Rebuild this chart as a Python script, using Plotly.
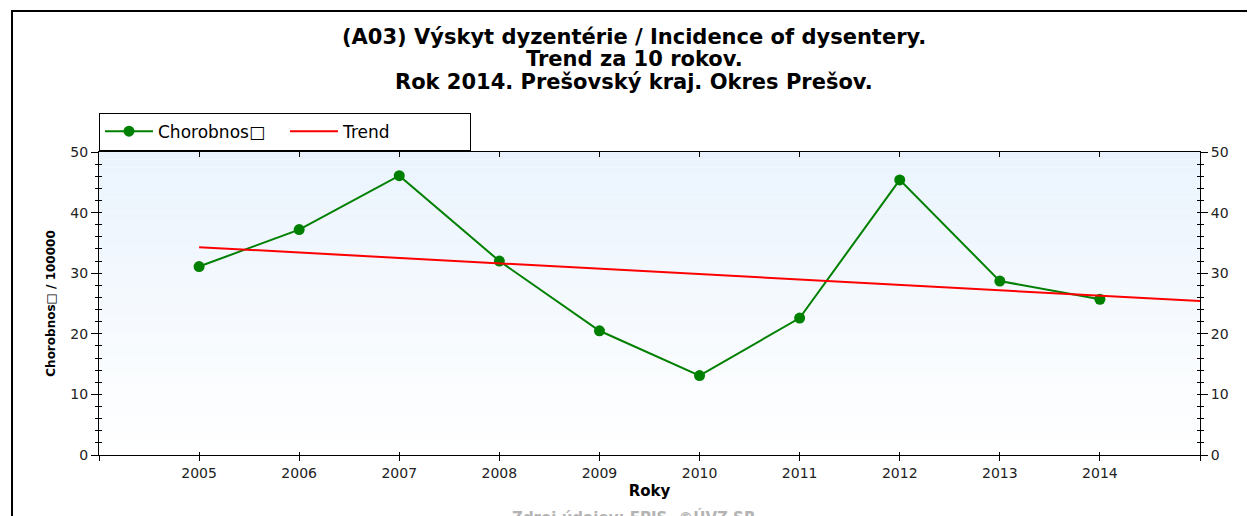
import plotly.graph_objects as go

# ---- data ----
years = [2005, 2006, 2007, 2008, 2009, 2010, 2011, 2012, 2013, 2014]
incidence = [31.1, 37.2, 46.1, 32.0, 20.5, 13.1, 22.6, 45.4, 28.7, 25.7]
trend_years = [2005, 2015]
trend_values = [34.3, 25.4]
tick_years = [2004, 2005, 2006, 2007, 2008, 2009, 2010, 2011, 2012, 2013, 2014, 2015]
tick_labels = ["", "2005", "2006", "2007", "2008", "2009", "2010", "2011", "2012", "2013", "2014", ""]
y_ticks = [0, 10, 20, 30, 40, 50]

series_name = "Chorobnos\u25a1"
title_lines = [
    "(A03) Výskyt dyzentérie / Incidence of dysentery.",
    "Trend za 10 rokov.",
    "Rok 2014. Prešovský kraj. Okres Prešov.",
]
y_title = "Chorobnos\u25a1 / 100000"
x_title = "Roky"
source_text = "Zdroj údajov: EPIS, ©ÚVZ SR"

FONT = "DejaVu Sans, Verdana, sans-serif"
GREEN = "#008000"
RED = "#ff0000"

fig = go.Figure()

fig.add_trace(go.Scatter(
    x=years, y=incidence, name=series_name, mode="lines+markers",
    line=dict(color=GREEN, width=2),
    marker=dict(color=GREEN, size=11, symbol="circle"),
))
fig.add_trace(go.Scatter(
    x=trend_years, y=trend_values, name="Trend", mode="lines",
    line=dict(color=RED, width=2),
))
# invisible helper traces so the overlay axes (inner tick halves, right axis, top axis) render
for xa, ya in [("x2", "y2"), ("x3", "y3"), ("x", "y4")]:
    fig.add_trace(go.Scatter(
        x=trend_years, y=trend_values, xaxis=xa, yaxis=ya, mode="lines",
        line=dict(width=0, color="rgba(0,0,0,0)"), showlegend=False, hoverinfo="skip",
    ))

# gradient background bands (light blue at top -> white at bottom)
shapes = []
n_bands = 40
top_rgb = (234, 243, 253)
bot_rgb = (255, 255, 255)
for i in range(n_bands):
    t = i / (n_bands - 1)
    r = round(bot_rgb[0] + (top_rgb[0] - bot_rgb[0]) * t)
    g = round(bot_rgb[1] + (top_rgb[1] - bot_rgb[1]) * t)
    b = round(bot_rgb[2] + (top_rgb[2] - bot_rgb[2]) * t)
    shapes.append(dict(
        type="rect", xref="x domain", yref="y domain",
        x0=0, x1=1, y0=i / n_bands, y1=(i + 1) / n_bands,
        fillcolor=f"rgb({r},{g},{b})", line=dict(width=0), layer="below",
    ))
# outer frame
shapes.append(dict(
    type="rect", xref="paper", yref="paper",
    x0=-0.079, x1=1.3, y0=-0.6, y1=1.465,
    line=dict(color="black", width=2), fillcolor="rgba(0,0,0,0)", layer="above",
))

tickfont = dict(family=FONT, size=14, color="#222222")
common_x = dict(range=[2004, 2015], tickmode="array", tickvals=tick_years,
                showgrid=False, zeroline=False, linecolor="black", linewidth=1,
                tickcolor="black", tickwidth=1)
common_y = dict(range=[0, 50], tickmode="array", tickvals=y_ticks,
                showgrid=False, zeroline=False, linecolor="black", linewidth=1,
                tickcolor="black", tickwidth=1)

annotations = []
for line_text, ypos in zip(title_lines, [1.3795, 1.307, 1.231]):
    annotations.append(dict(
        text=line_text, xref="paper", yref="paper", x=0.486, y=ypos,
        xanchor="center", yanchor="middle", showarrow=False,
        font=dict(family=FONT, size=21, color="black", weight="bold"),
    ))
annotations.append(dict(
    text=source_text, xref="paper", yref="paper", x=0.486, y=-0.168,
    xanchor="center", yanchor="top", showarrow=False,
    font=dict(family=FONT, size=15, color="#b4b4b4", weight="bold"),
))

fig.update_layout(
    width=1247, height=508,
    margin=dict(l=91, r=55, t=144, b=61),
    paper_bgcolor="white", plot_bgcolor="white",
    showlegend=True,
    legend=dict(
        orientation="h", x=0.0, y=1.13, xanchor="left", yanchor="top",
        bordercolor="black", borderwidth=1, bgcolor="white",
        font=dict(family=FONT, size=17, color="black"),
        entrywidth=122, entrywidthmode="pixels",
        tracegroupgap=0, itemwidth=48,
    ),
    xaxis=dict(**common_x, side="bottom", ticktext=tick_labels, ticks="outside",
               ticklen=5, tickfont=tickfont,
               title=dict(text=x_title, standoff=5,
                          font=dict(family=FONT, size=15, color="black", weight="bold"))),
    xaxis2=dict(**common_x, overlaying="x", side="top", anchor="y", ticks="inside",
                ticklen=5, showticklabels=False, matches="x"),
    xaxis3=dict(**common_x, overlaying="x", side="bottom", anchor="y", ticks="inside",
                ticklen=3, showticklabels=False, showline=False),
    yaxis=dict(**common_y, side="left", ticks="outside", ticklen=7, tickfont=tickfont,
               minor=dict(ticks="outside", ticklen=3, dtick=2, tickcolor="black"),
               title=dict(text=y_title, standoff=12,
                          font=dict(family=FONT, size=12, color="black", weight="bold"))),
    yaxis2=dict(**common_y, overlaying="y", side="right", anchor="x2", ticks="outside",
                ticklen=7, tickfont=tickfont,
                minor=dict(ticks="outside", ticklen=3, dtick=2, tickcolor="black")),
    yaxis3=dict(**common_y, overlaying="y", side="right", anchor="x3", ticks="inside",
                ticklen=3, showticklabels=False,
                minor=dict(ticks="inside", ticklen=3, dtick=2, tickcolor="black")),
    yaxis4=dict(**common_y, overlaying="y", side="left", anchor="x", ticks="inside",
                ticklen=3, showticklabels=False,
                minor=dict(ticks="inside", ticklen=3, dtick=2, tickcolor="black")),
    shapes=shapes,
    annotations=annotations,
)

fig.write_html("out.html")
